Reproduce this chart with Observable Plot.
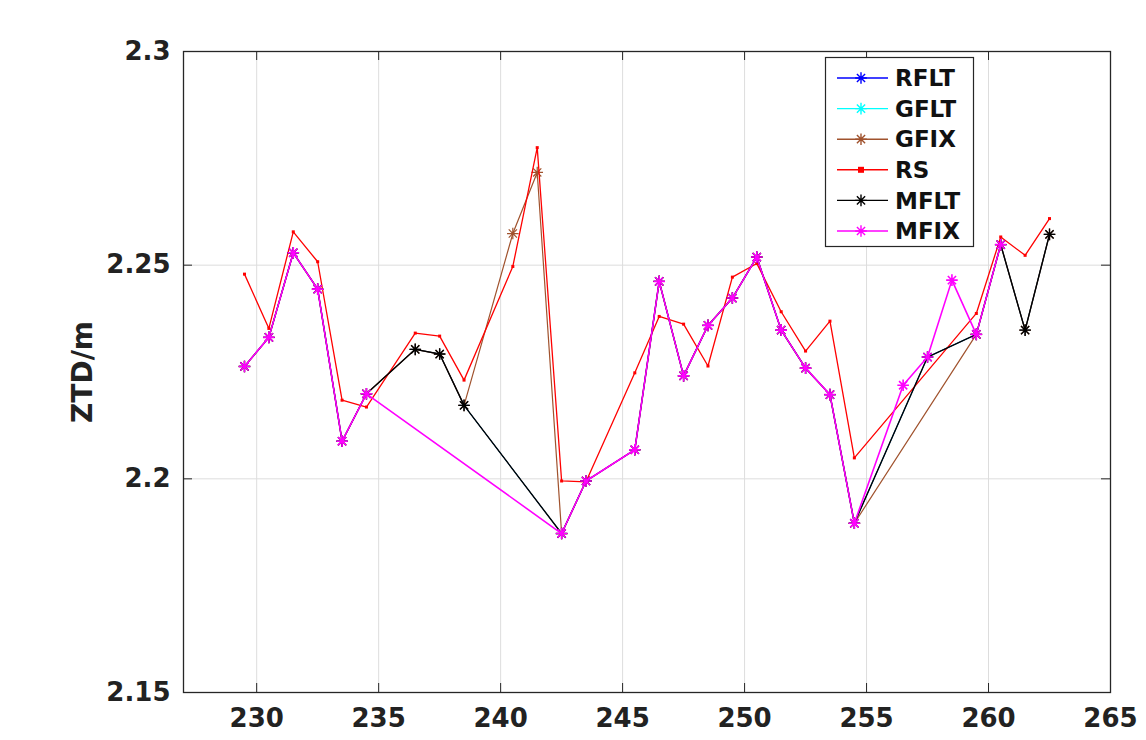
<!DOCTYPE html>
<html><head><meta charset="utf-8">
<script src="https://cdn.jsdelivr.net/npm/d3@7"></script>
<script src="https://cdn.jsdelivr.net/npm/@observablehq/plot@0.6"></script>
<style>
body{margin:0;background:#fff}
#chart{position:relative;width:1146px;height:740px}
</style>
</head><body><div id="chart"></div>
<script>
// ---- data ----
const xTicks = [230, 235, 240, 245, 250, 255, 260, 265];
const yTicks = [2.15, 2.2, 2.25, 2.3];
const yTickLabels = ["2.15", "2.2", "2.25", "2.3"];
const yLabel = "ZTD/m";
const seriesNames = ["RFLT", "GFLT", "GFIX", "RS", "MFLT", "MFIX"];
const seriesColors = ["#0000ff", "#00ffff", "#a0522d", "#ff0000", "#000000", "#ff00ff"];

const rfltX = [229.5,230.5,231.5,232.5,233.5,234.5,236.5,237.5,238.5,242.5,243.5,245.5,246.5,247.5,248.5,249.5,250.5,251.5,252.5,253.5,254.5,257.5,259.5,260.5,261.5,262.5];
const rfltY = [2.2263,2.2331,2.2529,2.2444,2.2088,2.2199,2.2303,2.2292,2.2172,2.1872,2.1995,2.2068,2.2462,2.2241,2.2359,2.2423,2.2519,2.2348,2.2259,2.2197,2.1896,2.2285,2.2338,2.2548,2.2348,2.2572];

const gfltX = [229.5,230.5,231.5,232.5,233.5,234.5,236.5,237.5,238.5,242.5,243.5,245.5,246.5,247.5,248.5,249.5,250.5,251.5,252.5,253.5,254.5,257.5,259.5,260.5,261.5,262.5];
const gfltY = [2.2263,2.2331,2.2529,2.2444,2.2088,2.2199,2.2303,2.2292,2.2172,2.1872,2.1995,2.2068,2.2462,2.2241,2.2359,2.2423,2.2519,2.2348,2.2259,2.2197,2.1896,2.2285,2.2338,2.2548,2.2348,2.2572];

const gfixX = [229.5,230.5,231.5,232.5,233.5,234.5,236.5,237.5,238.5,240.5,241.5,242.5,243.5,245.5,246.5,247.5,248.5,249.5,250.5,251.5,252.5,253.5,254.5,259.5,260.5,261.5,262.5];
const gfixY = [2.2263,2.2331,2.2529,2.2444,2.2088,2.2199,2.2303,2.2292,2.2172,2.2574,2.2717,2.1872,2.1995,2.2068,2.2462,2.2241,2.2359,2.2423,2.2519,2.2348,2.2259,2.2197,2.1896,2.2338,2.2548,2.2348,2.2572];

const rsX = [229.5,230.5,231.5,232.5,233.5,234.5,236.5,237.5,238.5,240.5,241.5,242.5,243.5,245.5,246.5,247.5,248.5,249.5,250.5,251.5,252.5,253.5,254.5,259.5,260.5,261.5,262.5];
const rsY = [2.2479,2.2352,2.2578,2.2508,2.2184,2.2168,2.2341,2.2334,2.2231,2.2497,2.2775,2.1995,2.1993,2.2248,2.2380,2.2362,2.2264,2.2472,2.2504,2.2391,2.2299,2.2369,2.2049,2.2387,2.2566,2.2523,2.2609];

const mfltX = [229.5,230.5,231.5,232.5,233.5,234.5,236.5,237.5,238.5,242.5,243.5,245.5,246.5,247.5,248.5,249.5,250.5,251.5,252.5,253.5,254.5,257.5,259.5,260.5,261.5,262.5];
const mfltY = [2.2263,2.2331,2.2529,2.2444,2.2088,2.2199,2.2303,2.2292,2.2172,2.1872,2.1995,2.2068,2.2462,2.2241,2.2359,2.2423,2.2519,2.2348,2.2259,2.2197,2.1896,2.2285,2.2338,2.2548,2.2348,2.2572];

const mfixX = [229.5,230.5,231.5,232.5,233.5,234.5,242.5,243.5,245.5,246.5,247.5,248.5,249.5,250.5,251.5,252.5,253.5,254.5,256.5,257.5,258.5,259.5,260.5];
const mfixY = [2.2263,2.2331,2.2529,2.2444,2.2088,2.2199,2.1872,2.1995,2.2068,2.2462,2.2241,2.2359,2.2423,2.2519,2.2348,2.2259,2.2197,2.1896,2.2219,2.2285,2.2465,2.2338,2.2548];

const seriesX = [rfltX, gfltX, gfixX, rsX, mfltX, mfixX];
const seriesY = [rfltY, gfltY, gfixY, rsY, mfltY, mfixY];
// drawing widths: series lower in the stack are slightly thinner so overlapped copies stay hidden
const seriesWidths = [0.8, 0.8, 1.2, 1.3, 1.4, 1.6];

// ---- marker ----
const asterisk = {
  draw(ctx, size) {
    const r = Math.sqrt(size / Math.PI);
    const d = r * Math.SQRT1_2;
    ctx.moveTo(-r, 0); ctx.lineTo(r, 0);
    ctx.moveTo(0, -r); ctx.lineTo(0, r);
    ctx.moveTo(-d, -d); ctx.lineTo(d, d);
    ctx.moveTo(-d, d); ctx.lineTo(d, -d);
  }
};

const W = 1146, H = 740, mL = 183, mR = 36, mT = 51, mB = 48;
const innerW = W - mL - mR, innerH = H - mT - mB;
const tickLen = 9;
const axisColor = "#262626";

const seriesMarks = [];
seriesNames.forEach((name, i) => {
  const rows = seriesX[i].map((x, j) => ({x, y: seriesY[i][j]}));
  seriesMarks.push(Plot.line(rows, {x: "x", y: "y", stroke: seriesColors[i], strokeWidth: seriesWidths[i]}));
  if (name === "RS") {
    seriesMarks.push(Plot.dot(rows, {x: "x", y: "y", symbol: "square", r: 1.7, fill: seriesColors[i], stroke: "none"}));
  } else {
    seriesMarks.push(Plot.dot(rows, {x: "x", y: "y", symbol: asterisk, r: i < 2 ? 5.2 : 5.8, fill: "none", stroke: seriesColors[i], strokeWidth: seriesWidths[i]}));
  }
});

const chart = Plot.plot({
  width: W, height: H,
  marginLeft: mL, marginRight: mR, marginTop: mT, marginBottom: mB,
  style: {fontFamily: "DejaVu Sans", background: "white", overflow: "visible"},
  x: {domain: [227, 265], label: null},
  y: {domain: [2.15, 2.3], label: null},
  marks: [
    Plot.gridX(xTicks, {stroke: "#dddddd", strokeOpacity: 1}),
    Plot.gridY(yTicks, {stroke: "#dddddd", strokeOpacity: 1}),
    ...seriesMarks,
    Plot.tickX(xTicks, {x: d => d, insetTop: innerH - tickLen, stroke: axisColor}),
    Plot.tickX(xTicks, {x: d => d, insetBottom: innerH - tickLen, stroke: axisColor}),
    Plot.tickY(yTicks, {y: d => d, insetRight: innerW - tickLen, stroke: axisColor}),
    Plot.tickY(yTicks, {y: d => d, insetLeft: innerW - tickLen, stroke: axisColor}),
    Plot.frame({stroke: axisColor, strokeWidth: 1.3}),
    Plot.axisX(xTicks, {tickSize: 0, tickPadding: 16, fontSize: 26, fontWeight: "bold", fill: "#222", tickFormat: d => String(d), label: null}),
    Plot.axisY(yTicks, {tickSize: 0, tickPadding: 13, fontSize: 26, fontWeight: "bold", fill: "#222", tickFormat: d => yTickLabels[yTicks.indexOf(d)], label: null}),
    Plot.text([yLabel], {frameAnchor: "left", text: d => d, rotate: -90, dx: -100, fontSize: 28, fontWeight: "bold", fill: "#222", textAnchor: "middle", lineAnchor: "middle"})
  ]
});

document.getElementById("chart").appendChild(chart);

// ---- legend (inside the axes, top right) ----
const svg = d3.select(chart);
const lg = svg.append("g").attr("font-family", "DejaVu Sans").attr("text-anchor", "start");
lg.append("rect").attr("x", 825.5).attr("y", 57.5).attr("width", 148).attr("height", 189)
  .attr("fill", "white").attr("stroke", axisColor).attr("stroke-width", 1.2);
const symGen = d3.symbol().type(asterisk).size(Math.PI * 5.8 * 5.8);
seriesNames.forEach((name, i) => {
  const cy = 78 + i * 30.6;
  const e = lg.append("g");
  e.append("line").attr("x1", 837).attr("x2", 888).attr("y1", cy).attr("y2", cy)
    .attr("stroke", seriesColors[i]).attr("stroke-width", 1.4);
  if (name === "RS") {
    e.append("rect").attr("x", 861 - 3).attr("y", cy - 3).attr("width", 6).attr("height", 6).attr("fill", seriesColors[i]);
  } else {
    e.append("path").attr("d", symGen()).attr("transform", `translate(861,${cy})`)
      .attr("fill", "none").attr("stroke", seriesColors[i]).attr("stroke-width", 1.4);
  }
  e.append("text").attr("x", 895).attr("y", cy).attr("dy", "0.36em").attr("text-anchor", "start")
    .attr("font-size", 23).attr("font-weight", "bold").attr("fill", "#111").text(name);
});
</script>
</body></html>
